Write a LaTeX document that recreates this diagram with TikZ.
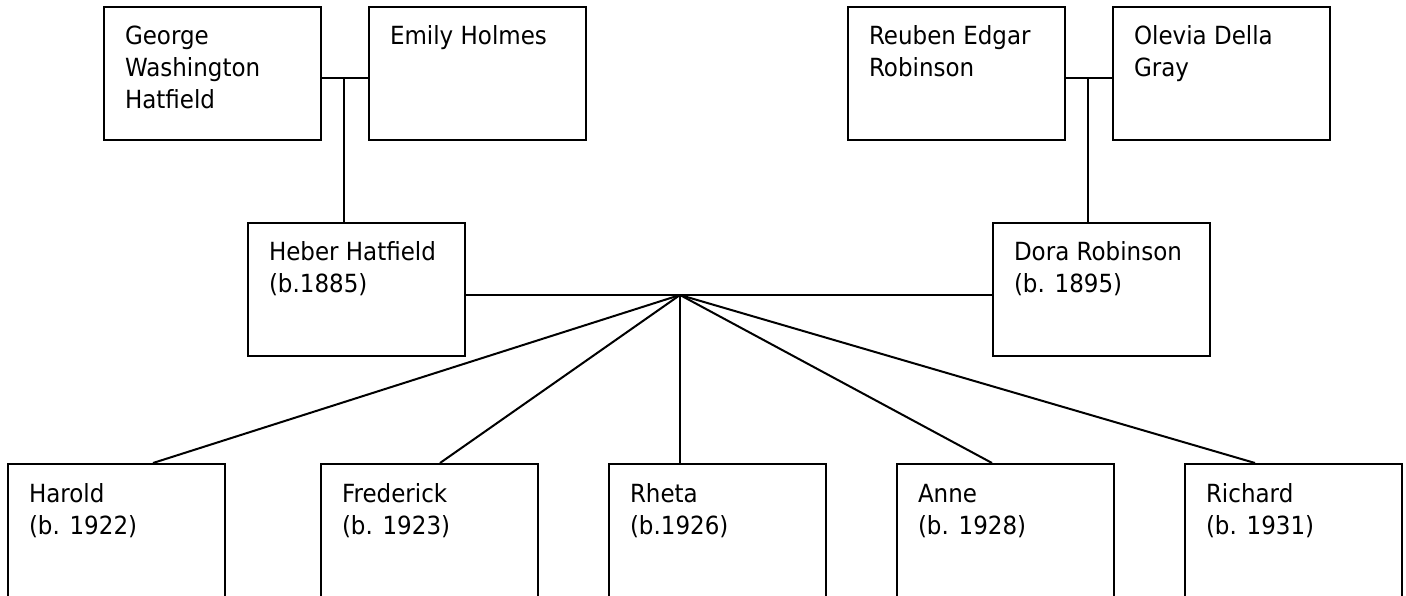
\documentclass[tikz,border=0pt]{standalone}
\usepackage{fontspec}
\setmainfont{DejaVu Sans}[FakeStretch=0.92]
\usepackage{tikz}
\usetikzlibrary{positioning,calc}
\newcommand{\famtext}[1]{\parbox[t][101.8pt][t]{175pt}{\raggedright\strut #1}}
\tikzstyle{persona} = [rectangle, anchor=north west, minimum width=217pt, minimum height=133pt,
inner xsep=21pt, inner ysep=15.6pt, draw=black, line width=2pt, font=\fontsize{25pt}{32pt}\selectfont]
\tikzstyle{link} = [line width=2pt]

\begin{document}
\begin{tikzpicture}[x=1pt, y=-1pt]
				\useasboundingbox (0,0) rectangle (1406,596);
				\node (george) at (103,6) [persona] {\famtext{George\\Washington\\Hatfield}};
				\node (emily) at (368,6) [persona] {\famtext{Emily Holmes}};
				\node (reuben) at (847,6) [persona] {\famtext{Reuben Edgar\\Robinson}};
				\node (olevia) at (1112,6) [persona] {\famtext{Olevia Della\\Gray}};
				\node (heber) at (247,222) [persona] {\famtext{Heber Hatfield\\(b.1885)}};
				\node (dora) at (992,222) [persona] {\famtext{Dora Robinson\\(b. 1895)}};
				\node (harold) at (7,463) [persona] {\famtext{Harold\\(b. 1922)}};
				\node (frederick) at (320,463) [persona] {\famtext{Frederick\\(b. 1923)}};
				\node (rheta) at (608,463) [persona] {\famtext{Rheta\\(b.1926)}};
				\node (anne) at (896,463) [persona] {\famtext{Anne\\(b. 1928)}};
				\node (richard) at (1184,463) [persona] {\famtext{Richard\\(b. 1931)}};
				\coordinate (m1) at (344,78);
				\coordinate (m2) at (1088,78);
				\coordinate (kids) at (680,295);
				\draw[link] (george.east |- m1) -- (emily.west |- m1);
				\draw[link] (m1) -- (m1 |- heber.north);
				\draw[link] (reuben.east |- m2) -- (olevia.west |- m2);
				\draw[link] (m2) -- (m2 |- dora.north);
				\draw[link] (heber.east |- kids) -- (dora.west |- kids);
				\draw[link] (kids) -- ($(harold.north west)+(146,0)$);
				\draw[link] (kids) -- ($(frederick.north west)+(120,0)$);
				\draw[link] (kids) -- (kids |- rheta.north);
				\draw[link] (kids) -- ($(anne.north west)+(96,0)$);
				\draw[link] (kids) -- ($(richard.north west)+(71,0)$);
\end{tikzpicture}
\end{document}
